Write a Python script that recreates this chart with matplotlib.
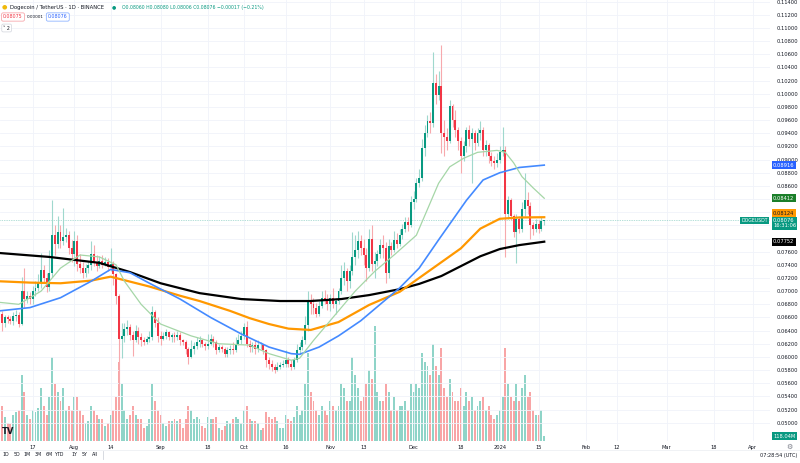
import pandas as pd
import matplotlib.pyplot as plt
import numpy as np

# daily DOGE/USDT candles, first one on 2023-07-05
start = pd.Timestamp('2023-07-05')

closes = [
    .0665, .0652, .0660, .0658, .0655, .0662, .0664, .0650, .0700, .0688,
    .0692, .0688, .0700, .0705, .0712, .0732, .0720, .0706, .0728, .0785,
    .0772, .0790, .0776, .0782, .0786, .0766, .0756, .0776, .0742, .0735,
    .0728, .0735, .0740, .0756, .0745, .0738, .0746, .0740, .0745, .0736,
    .0742, .0726, .0692, .0628, .0632, .0642, .0646, .0634, .0626, .0640,
    .0630, .0626, .0623, .0628, .0630, .0668, .0652, .0632, .0628, .0632,
    .0638, .0630, .0633, .0630, .0634, .0626, .0622, .0612, .0600, .0612,
    .0616, .0622, .0626, .0620, .0616, .0620, .0628, .0622, .0610, .0615,
    .0612, .0605, .0610, .0612, .0610, .0620, .0625, .0632, .0645, .0620,
    .0615, .0618, .0612, .0618, .0618, .0610, .0595, .0590, .0585, .0580,
    .0585, .0588, .0590, .0595, .0590, .0585, .0595, .0610, .0615, .0625,
    .0648, .0685, .0680, .0675, .0665, .0678, .0690, .0688, .0680, .0690,
    .0680, .0685, .0700, .0720, .0730, .0715, .0730, .0752, .0762, .0776,
    .0766, .0755, .0735, .0780, .0742, .0746, .0756, .0770, .0765, .0728,
    .0768, .0762, .0778, .0772, .0785, .0795, .0805, .0800, .0836, .0840,
    .0865, .0872, .0918, .0940, .0958, .0955, .1017, .0998, .1012, .0940,
    .0935, .0928, .0982, .0960, .0945, .0928, .0905, .0920, .0945, .0932,
    .0940, .0925, .0940, .0945, .0915, .0922, .0905, .0898, .0895, .0900,
    .0912, .0915, .0818, .0838, .0815, .0790, .0810, .0795, .0825, .0838,
    .0830, .0800, .0795, .0802, .0795, .0806, .08076,
]
highs = [
    .0680, .0670, .0664, .0664, .0662, .0668, .0672, .0668, .0722, .0735,
    .0700, .0698, .0708, .0716, .0726, .0758, .0740, .0728, .0762, .0838,
    .0800, .0815, .0800, .0826, .0796, .0792, .0778, .0792, .0785, .0756,
    .0745, .0742, .0746, .0776, .0770, .0755, .0753, .0755, .0752, .0750,
    .0765, .0746, .0728, .0695, .0652, .0652, .0656, .0650, .0640, .0648,
    .0645, .0636, .0630, .0632, .0640, .0678, .0672, .0660, .0640, .0638,
    .0642, .0640, .0637, .0638, .0640, .0638, .0628, .0625, .0615, .0625,
    .0622, .0630, .0632, .0628, .0622, .0635, .0635, .0632, .0625, .0620,
    .0618, .0615, .0615, .0618, .0622, .0630, .0635, .0640, .0652, .0655,
    .0625, .0622, .0625, .0625, .0622, .0620, .0612, .0600, .0595, .0590,
    .0592, .0592, .0595, .0610, .0600, .0595, .0600, .0620, .0622, .0632,
    .0662, .0700, .0695, .0690, .0682, .0685, .0700, .0702, .0695, .0695,
    .0705, .0690, .0705, .0740, .0745, .0735, .0740, .0790, .0785, .0792,
    .0785, .0780, .0765, .0795, .0800, .0760, .0762, .0780, .0785, .0775,
    .0780, .0775, .0792, .0788, .0795, .0802, .0812, .0812, .0845, .0852,
    .0872, .0885, .0932, .0952, .0968, .0972, .1063, .1030, .1035, .1074,
    .0960, .0948, .0990, .0985, .0975, .0950, .0935, .0928, .0950, .0952,
    .0948, .0945, .0948, .0958, .0950, .0930, .0925, .0912, .0905, .0910,
    .0920, .0950, .0920, .0845, .0842, .0818, .0818, .0815, .0835, .0880,
    .0850, .0835, .0805, .0810, .0808, .0812, .0808,
]
lows = [
    .0655, .0640, .0645, .0652, .0650, .0648, .0655, .0645, .0648, .0675,
    .0682, .0680, .0680, .0692, .0700, .0705, .0712, .0698, .0700, .0722,
    .0755, .0765, .0765, .0770, .0775, .0756, .0745, .0738, .0730, .0728,
    .0720, .0722, .0728, .0732, .0738, .0730, .0735, .0735, .0738, .0730,
    .0730, .0710, .0680, .0548, .0598, .0622, .0634, .0625, .0602, .0622,
    .0620, .0616, .0618, .0620, .0622, .0625, .0645, .0622, .0618, .0625,
    .0628, .0625, .0622, .0622, .0625, .0618, .0618, .0605, .0590, .0598,
    .0605, .0612, .0615, .0615, .0610, .0612, .0618, .0615, .0605, .0608,
    .0608, .0600, .0600, .0605, .0605, .0608, .0618, .0620, .0628, .0615,
    .0608, .0608, .0605, .0608, .0612, .0605, .0585, .0582, .0578, .0575,
    .0578, .0582, .0584, .0585, .0585, .0580, .0582, .0592, .0605, .0610,
    .0620, .0640, .0665, .0665, .0660, .0662, .0675, .0680, .0672, .0670,
    .0675, .0665, .0680, .0695, .0710, .0700, .0705, .0725, .0740, .0750,
    .0755, .0740, .0715, .0730, .0730, .0720, .0738, .0750, .0750, .0712,
    .0720, .0755, .0760, .0765, .0768, .0780, .0790, .0792, .0798, .0825,
    .0835, .0858, .0868, .0905, .0935, .0940, .0950, .0985, .0990, .0910,
    .0905, .0915, .0925, .0950, .0935, .0915, .0880, .0898, .0912, .0920,
    .0864, .0915, .0920, .0930, .0905, .0905, .0895, .0890, .0885, .0888,
    .0895, .0905, .0752, .0810, .0808, .0782, .0743, .0788, .0790, .0815,
    .0818, .0780, .0785, .0790, .0788, .0792, .08006,
]
# volume in millions of DOGE
volumes = [
    700, 800, 550, 400, 380, 600, 650, 700, 1500, 1100,
    600, 500, 700, 650, 750, 1200, 800, 600, 1000, 1900,
    1300, 1100, 900, 1200, 700, 800, 700, 1000, 1000, 700,
    600, 400, 450, 800, 700, 600, 500, 500, 350, 400,
    600, 700, 1000, 1800, 1300, 700, 500, 600, 800, 600,
    500, 500, 300, 350, 500, 1300, 900, 700, 600, 400,
    350, 450, 450, 500, 450, 500, 300, 500, 800, 700,
    500, 550, 500, 350, 300, 550, 500, 500, 550, 300,
    250, 350, 450, 400, 500, 550, 500, 400, 700, 800,
    500, 450, 450, 400, 250, 300, 650, 550, 500, 550,
    450, 300, 300, 600, 500, 450, 550, 800, 600, 700,
    1300, 2000, 1100, 900, 700, 600, 800, 700, 600, 900,
    800, 700, 800, 1300, 1200, 900, 900, 1900, 1500, 1200,
    900, 1000, 1300, 1600, 1400, 2600, 1100, 900, 900, 1300,
    1100, 700, 1000, 700, 800, 800, 900, 700, 1300, 1100,
    1300, 1200, 2000, 1800, 1700, 1500, 2200, 1700, 1500, 2100,
    1200, 1000, 1400, 1100, 900, 900, 1200, 800, 1100, 900,
    1000, 700, 800, 900, 1000, 700, 800, 600, 500, 600,
    700, 1000, 2100, 1300, 1000, 900, 1300, 900, 1200, 1500,
    1000, 1100, 700, 600, 600, 700, 118,
]

# moving averages (day offset from start, value)
ma20_day = [0, 7, 15, 22, 29, 36, 42, 45, 51, 58, 69, 79, 90, 97, 105, 108,
            113, 121, 128, 135, 142, 150, 158, 162, 167, 172, 179, 182, 185,
            188, 192, 196]
ma20_val = [.0683, .0680, .0700, .0735, .0755, .0752, .0740, .0715, .0680,
            .0650, .0632, .0620, .0618, .0605, .0595, .0598, .0625, .0665,
            .0700, .0730, .0755, .0785, .0864, .0889, .0902, .0911, .0914,
            .0911, .0895, .0874, .0857, .08412]
ma50_day = [0, 11, 22, 33, 40, 47, 54, 65, 76, 87, 97, 105, 108, 115, 122,
            130, 137, 144, 151, 158, 168, 174, 180, 187, 196]
ma50_val = [.0670, .0675, .0690, .0715, .0733, .0728, .0712, .0688, .0660,
            .0635, .0615, .0605, .0604, .0615, .0632, .0655, .0680, .0705,
            .0735, .0778, .0838, .0869, .0880, .0888, .08916]
ma100_day = [0, 11, 22, 33, 40, 54, 65, 72, 83, 90, 97, 104, 112, 122, 133,
             144, 155, 166, 173, 180, 187, 196]
ma100_val = [.0715, .0713, .0712, .0716, .0722, .0707, .0693, .0685, .0670,
             .0659, .0650, .0643, .0641, .0653, .0679, .0699, .0732, .0765,
             .0795, .0810, .0812, .08124]
ma200_day = [0, 18, 36, 47, 58, 72, 87, 101, 112, 123, 133, 144, 151, 159,
             166, 173, 180, 187, 196]
ma200_val = [.0758, .0752, .0743, .0729, .0712, .0697, .0688, .0685, .0685,
             .0688, .0694, .0703, .0711, .0723, .0738, .0753, .0764, .0770,
             .07752]

tick_dates = ['2023-07-17', '2023-08-01', '2023-08-14', '2023-09-01',
              '2023-09-18', '2023-10-01', '2023-10-16', '2023-11-01',
              '2023-11-13', '2023-12-01', '2023-12-18', '2024-01-01',
              '2024-01-15', '2024-02-01', '2024-02-12', '2024-03-01',
              '2024-03-18', '2024-04-01']
tick_labels = ['17', 'Aug', '14', 'Sep', '18', 'Oct', '16', 'Nov', '13', 'Dec',
               '18', '2024', '15', 'Feb', '12', 'Mar', '18', 'Apr']

UP, DOWN = '#089981', '#f23645'
UP_W, DOWN_W = '#9fd8cd', '#f7a9ad'
UP_V, DOWN_V = '#8fd4c8', '#f8a5a6'
FS = 3.7

closes = np.array(closes)
opens = np.r_[closes[0], closes[:-1]]
opens[-1] = 0.08060
x = np.arange(len(closes))
up = closes >= opens

fig = plt.figure(figsize=(8, 4.63), dpi=100)
fig.patch.set_facecolor('white')
rect = [0, 22 / 463, 770 / 800, 441 / 463]

# volume pane underneath
vax = fig.add_axes(rect, zorder=0)
vax.bar(x, volumes, width=0.7, color=np.where(up, UP_V, DOWN_V), linewidth=0)
vax.set_ylim(0, 10000)
vax.set_xlim(0.24, 277.2)
vax.axis('off')

ax = fig.add_axes(rect, zorder=1)
ax.patch.set_alpha(0)
ax.set_xlim(0.24, 277.2)
ax.set_ylim(0.04722, 0.11426)

ax.vlines(x, lows, highs, colors=np.where(up, UP_W, DOWN_W), linewidth=0.8, zorder=2)
body_lo = np.minimum(opens, closes)
body_h = np.maximum(np.abs(closes - opens), 0.00008)
ax.bar(x, body_h, bottom=body_lo, width=0.7, color=np.where(up, UP, DOWN),
       linewidth=0, zorder=3)

ax.plot(ma200_day, ma200_val, color='black', lw=1.6, zorder=4)
ax.plot(ma100_day, ma100_val, color='#ff9800', lw=1.6, zorder=4)
ax.plot(ma50_day, ma50_val, color='#448aff', lw=1.2, zorder=4)
ax.plot(ma20_day, ma20_val, color='#a5d6a7', lw=0.9, zorder=4)

last = closes[-1]
ax.axhline(last, color='#089981', lw=0.5, ls=(0, (1, 1.5)), alpha=0.6, zorder=1)

# grid + axes
tick_pos = [(pd.Timestamp(d) - start).days for d in tick_dates]
ax.set_xticks(tick_pos)
ax.set_xticklabels(tick_labels)
yt = np.round(np.arange(0.050, 0.1141, 0.002), 3)
hidden = {0.084, 0.082, 0.080, 0.078}  # covered by the value boxes
ax.set_yticks(yt)
ax.set_yticklabels(['' if v in hidden else f'{v:.5f}' for v in yt])
ax.yaxis.tick_right()
ax.tick_params(axis='both', length=0, labelsize=FS, colors='#131722')
ax.tick_params(axis='y', pad=5)
ax.tick_params(axis='x', pad=3)
ax.grid(True, color='#f0f3fa', lw=0.6, zorder=0)
for s in ax.spines.values():
    s.set_visible(False)
ax.set_axisbelow(True)

# right side value labels (nudged apart the way the app stacks them)
def side_label(pos, txt, bg, fg='white'):
    ax.text(1.004, pos, txt, transform=ax.get_yaxis_transform(), fontsize=FS,
            color=fg, va='center', ha='left', zorder=10, clip_on=False,
            bbox=dict(boxstyle='square,pad=0.3', fc=bg, ec='none'))

side_label(0.08916, '0.08916', '#2962ff')
side_label(0.08412, '0.08412', '#1b7f2a')
side_label(0.08180, '0.08124', '#ff9800', '#131722')
side_label(0.07752, '0.07752', '#000000')
ax.text(1.004, 0.08030, '0.08076\n16:31:06', transform=ax.get_yaxis_transform(),
        fontsize=FS, color='white', va='center', ha='left', zorder=11, clip_on=False,
        linespacing=1.0, bbox=dict(boxstyle='square,pad=0.25', fc='#089981', ec='none'))
ax.text(0.997, last, 'DOGEUSDT', transform=ax.get_yaxis_transform(), fontsize=3.3,
        color='white', va='center', ha='right', zorder=10,
        bbox=dict(boxstyle='square,pad=0.25', fc='#089981', ec='none'))
ax.text(1.004, 0.04798, '118.04M', transform=ax.get_yaxis_transform(), fontsize=FS,
        color='white', va='center', ha='left', zorder=10, clip_on=False,
        bbox=dict(boxstyle='square,pad=0.3', fc='#089981', ec='none'))

# header
fig.text(0.002, 1 - 7 / 463, '●', fontsize=4.5, color='#f0b90b', va='center')
fig.text(0.012, 1 - 7 / 463, 'Dogecoin / TetherUS · 1D · BINANCE', fontsize=3.8,
         color='#131722', va='center')
fig.text(0.140, 1 - 7 / 463, '●', fontsize=3.5, color='#089981', va='center')
fig.text(0.153, 1 - 7 / 463, 'O0.08060 H0.08080 L0.08006 C0.08076 −0.00017 (−0.21%)',
         fontsize=3.3, color='#089981', va='center')
fig.text(0.004, 1 - 17 / 463, '0.08075', fontsize=3.4, color='#f23645', va='center',
         bbox=dict(boxstyle='round,pad=0.35', fc='white', ec='#f7a9ad', lw=0.6))
fig.text(0.034, 1 - 17 / 463, '0.00001', fontsize=3.0, color='#131722', va='center')
fig.text(0.060, 1 - 17 / 463, '0.08076', fontsize=3.4, color='#2962ff', va='center',
         bbox=dict(boxstyle='round,pad=0.35', fc='white', ec='#90b4ff', lw=0.6))
fig.text(0.004, 1 - 28 / 463, '˅ 2', fontsize=3.4, color='#131722', va='center',
         bbox=dict(boxstyle='round,pad=0.3', fc='white', ec='#d1d4dc', lw=0.5))

# TradingView mark, bottom-left of the pane
fig.text(0.002, (463 - 432) / 463, 'TV', fontsize=6, fontweight='bold',
         color='#131722', va='center')

# bottom toolbar
fig.add_artist(plt.Line2D([0, 1], [13 / 463, 13 / 463], color='#eef0f4', lw=0.6))
for lab, px in zip(['1D', '5D', '1M', '3M', '6M', 'YTD', '1Y', '5Y', 'All'],
                   [6, 17, 27, 38, 49, 60, 74, 85, 95]):
    fig.text(px / 800, 8 / 463, lab, fontsize=3.4, color='#131722',
             ha='center', va='center')
fig.add_artist(plt.Line2D([103 / 800, 103 / 800], [4 / 463, 12 / 463],
                          color='#d1d4dc', lw=0.6))
fig.text(789 / 800, (463 - 447) / 463, '⚙', fontsize=5, color='#787b86',
         ha='center', va='center')
fig.text(797 / 800, 8 / 463, '07:28:54 (UTC)', fontsize=3.6, color='#131722',
         ha='right', va='center')

plt.savefig('out.png', dpi=100)
